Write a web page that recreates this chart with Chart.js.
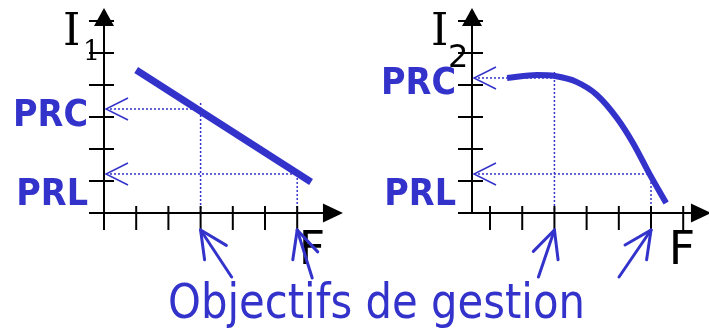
<!DOCTYPE html>
<html>
<head>
<meta charset="utf-8">
<script src="https://cdn.jsdelivr.net/npm/chart.js@4/dist/chart.umd.min.js"></script>
<style>
html, body { margin: 0; padding: 0; background: #fff; }
#wrap { position: relative; width: 709px; height: 331px; overflow: hidden; }
#leftChart { position: absolute; left: 0; top: 0; }
#rightChart { position: absolute; left: 360px; top: 0; }
#caption { position: absolute; left: 168px; top: 277px; font: 48px "DejaVu Sans"; line-height: 1;
  color: #3333cc; white-space: nowrap; transform-origin: 0 0; }
</style>
</head>
<body>
<div id="wrap">
  <canvas id="leftChart" width="360" height="331"></canvas>
  <canvas id="rightChart" width="349" height="331"></canvas>
  <div id="caption">Objectifs de gestion</div>
</div>
<script>
// graduations des axes
var ticksX = [0, 1, 2, 3, 4, 5, 6];
var ticksY = [0, 1, 2, 3, 4, 5, 6];
var levelNames = ['PRC', 'PRL'];

// I1 : droite
var leftX = [1, 6.43];
var leftY = [4.47, 0.97];
var leftObjectives = [3, 6];
var leftLevels = [3.25, 1.22];

// I2 : courbe
var rightX = [0.53, 1.46, 2.02, 2.70, 3.32, 3.94, 4.44, 4.97, 5.47];
var rightY = [4.22, 4.31, 4.28, 4.09, 3.69, 2.97, 2.19, 1.19, 0.31];
var rightObjectives = [2, 5];
var rightLevels = [4.22, 1.22];

var blue = '#3333cc';

function toPoints(xs, ys) {
  return xs.map(function (x, i) { return { x: x, y: ys[i] }; });
}

function line(ctx, x1, y1, x2, y2) {
  ctx.beginPath();
  ctx.moveTo(x1, y1);
  ctx.lineTo(x2, y2);
  ctx.stroke();
}

var sketch = {
  id: 'sketch',
  beforeDatasetsDraw: function (chart, args, o) {
    var ctx = chart.ctx, xs = chart.scales.x, ys = chart.scales.y;
    var ax = xs.getPixelForValue(xs.min), ay = ys.getPixelForValue(0);
    ctx.save();
    ctx.strokeStyle = blue;
    ctx.lineWidth = 1.5;
    ctx.setLineDash([2, 2]);
    o.levels.forEach(function (lv, i) {
      var px = xs.getPixelForValue(o.objectives[i]);
      var py = ys.getPixelForValue(lv);
      line(ctx, ax + 2, py, px, py);
      line(ctx, px, py - (i == 0 ? 6 : 0), px, ay);
    });
    ctx.restore();
  },
  afterDatasetsDraw: function (chart, args, o) {
    var ctx = chart.ctx, xs = chart.scales.x, ys = chart.scales.y;
    var ax = xs.getPixelForValue(xs.min), ay = ys.getPixelForValue(0);
    ctx.save();
    ctx.strokeStyle = '#000';
    ctx.fillStyle = '#000';
    ctx.lineWidth = 2;
    // axe vertical
    line(ctx, ax, ay + 1, ax, 20);
    ticksY.forEach(function (t) {
      var py = ys.getPixelForValue(t);
      line(ctx, ax - o.tickLeft, py, ax + o.tickRight, py);
    });
    ctx.beginPath();
    ctx.moveTo(ax, 8); ctx.lineTo(ax - 10, 26); ctx.lineTo(ax + 10, 26);
    ctx.closePath(); ctx.fill();
    // axe horizontal
    var xb = xs.getPixelForValue(o.arrowX);
    line(ctx, ax, ay, xb, ay);
    ticksX.forEach(function (t) {
      var px = xs.getPixelForValue(t);
      line(ctx, px, ay - 7, px, ay + 17);
    });
    ctx.beginPath();
    ctx.moveTo(xb + 20, ay); ctx.lineTo(xb, ay - 9.5); ctx.lineTo(xb, ay + 9.5);
    ctx.closePath(); ctx.fill();

    // noms des axes
    ctx.textBaseline = 'alphabetic';
    ctx.textAlign = 'left';
    ctx.font = '44px "DejaVu Serif"';
    ctx.fillText('I', ax - 41, 45);
    ctx.font = o.subFont;
    ctx.fillText(o.sub, ax + o.subDx, o.subY);
    ctx.font = '46px "DejaVu Sans"';
    ctx.fillText('F', xs.getPixelForValue(o.fX), 264);

    // PRC / PRL
    ctx.fillStyle = blue;
    ctx.font = 'bold 37px "DejaVu Sans"';
    var sx = 75 / ctx.measureText('PRC').width;
    var baseDy = [16.5, 31.5];
    o.levels.forEach(function (lv, i) {
      var py = ys.getPixelForValue(lv);
      ctx.save();
      ctx.translate(ax - 16, py + baseDy[i]);
      ctx.scale(sx, 1);
      ctx.textAlign = 'right';
      ctx.fillText(levelNames[i], 0, 0);
      ctx.restore();
      // petite fleche ouverte sur l'axe
      ctx.strokeStyle = blue;
      ctx.lineWidth = 1.5;
      ctx.beginPath();
      ctx.moveTo(ax + 24, py - 11); ctx.lineTo(ax + 2, py); ctx.lineTo(ax + 24, py + 11);
      ctx.stroke();
    });

    // fleches vers les objectifs
    ctx.strokeStyle = blue;
    ctx.lineWidth = 3;
    ctx.lineCap = 'round';
    o.objectives.forEach(function (v, i) {
      var tx = xs.getPixelForValue(v), ty = ay + 17;
      var d = o.shafts[i];
      var ang = Math.atan2(d[1], d[0]);
      line(ctx, tx, ty, tx + d[0], ty + d[1]);
      [-0.45, 0.45].forEach(function (a) {
        line(ctx, tx, ty, tx + 30 * Math.cos(ang + a), ty + 30 * Math.sin(ang + a));
      });
    });
    ctx.restore();
  }
};

function makeChart(id, pts, tension, xMin, xMax, pad, opts) {
  return new Chart(document.getElementById(id), {
    type: 'scatter',
    data: {
      datasets: [{
        data: pts,
        showLine: true,
        borderColor: blue,
        borderWidth: tension ? 6 : 7,
        pointRadius: 0,
        cubicInterpolationMode: tension ? 'monotone' : 'default',
        tension: tension
      }]
    },
    options: {
      responsive: false,
      animation: false,
      layout: { padding: pad },
      scales: {
        x: { type: 'linear', min: xMin, max: xMax, display: false },
        y: { type: 'linear', min: 0, max: 6.5, display: false }
      },
      plugins: { legend: { display: false }, tooltip: { enabled: false }, sketch: opts }
    },
    plugins: [sketch]
  });
}

makeChart('leftChart', toPoints(leftX, leftY), 0, 0, 7.5,
  { left: 104, right: 14.5, top: 5, bottom: 118 },
  { levels: leftLevels, objectives: leftObjectives, tickLeft: 15, tickRight: 10,
    arrowX: 6.8, fX: 6.05, sub: '1', subFont: '27px "DejaVu Serif"', subDx: -21, subY: 60,
    shafts: [[31, 47], [15, 48]] });

makeChart('rightChart', toPoints(rightX, rightY), 0.4, -0.56, 6.77,
  { left: 112, right: 1, top: 5, bottom: 118 },
  { levels: rightLevels, objectives: rightObjectives, tickLeft: 14, tickRight: 11,
    arrowX: 6.24, fX: 5.55, sub: '2', subFont: '32px "DejaVu Sans"', subDx: -24, subY: 67,
    shafts: [[-16, 47], [-32, 47]] });

var cap = document.getElementById('caption');
cap.style.transform = 'scaleX(' + (417 / cap.offsetWidth) + ')';
</script>
</body>
</html>
